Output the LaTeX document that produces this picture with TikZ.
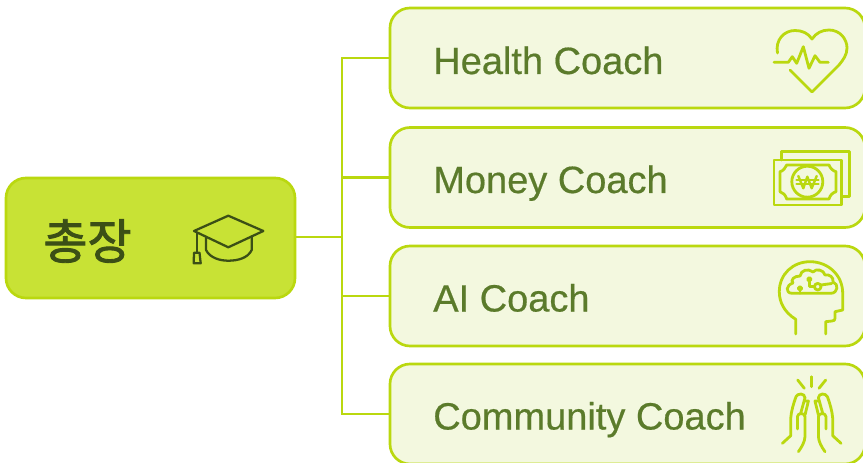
\documentclass[tikz,border=0pt]{standalone}
\usepackage{fontspec}
\setmainfont{Liberation Sans}[FakeBold=0.5]
\newfontfamily\cjk{Noto Sans CJK KR}[FakeBold=1.8]
\definecolor{lime}{HTML}{BAD80F}
\definecolor{pale}{HTML}{F3F8DF}
\definecolor{rootfill}{HTML}{C8E235}
\definecolor{txt}{HTML}{5B7B2B}
\definecolor{dark}{HTML}{3B4F16}
\tikzset{
  coachbox/.style={draw=lime,fill=pale,line width=2pt,rounded corners=15pt,minimum width=356.25pt,minimum height=75pt,inner sep=0pt},
  rootbox/.style={draw=lime,fill=rootfill,line width=2pt,rounded corners=15pt,minimum width=216.75pt,minimum height=90pt,inner sep=0pt},
  coachtext/.style={text=txt,font=\fontsize{28.5pt}{32pt}\selectfont,anchor=base west,inner sep=0pt},
  link/.style={draw=lime,line width=2.1pt},
  icon/.style={draw=lime,line width=2.1pt,line cap=round,line join=round},
  capicon/.style={draw=dark,line width=1.7pt,line cap=round,line join=round},
}
\begin{document}
\begin{tikzpicture}[x=0.75pt,y=-0.75pt]
\useasboundingbox (0,0) rectangle (863,463);
\fill[white] (0,0) rectangle (863,463);
\coordinate (j) at (342,237);
\node[coachbox] (h) at (627.5,58) {};
\node[coachbox] (m) at (627.5,177.5) {};
\node[coachbox] (a) at (627.5,296) {};
\node[coachbox] (c) at (627.5,414) {};
\node[rootbox] (root) at (150.5,238) {};
\draw[link] (root.east |- j) -- (j);
\draw[link] (h.west) -| (j);
\draw[link] (m.west) -| (j);
\draw[link] (a.west) -| (j);
\draw[link] (c.west) -| (j);
\node[coachtext] (t1) at (433,74) {Health Coach};
\node[coachtext] (t2) at (433,193) {Money Coach};
\node[coachtext] (t3) at (433,311.5) {AI Coach};
\node[coachtext] (t4) at (433,429.5) {Community Coach};
\node[text=dark,inner sep=0pt] (t0) at (87.5,241) {\cjk\fontsize{36pt}{39pt}\selectfont 총장};
% graduation cap
\begin{scope}[capicon]
\draw (228.3,215.7) -- (263.3,231) -- (228.3,247.3) -- (194,231) -- cycle;
\draw (206,236.7) -- (206,250) .. controls (210,258) and (220,260.7) .. (228.3,260.7) .. controls (238,260.7) and (248,258) .. (251.7,250) -- (251.7,236.7);
\draw (196.7,232.7) -- (196.7,251.7);
\draw (194,252.7) -- (199.5,252.7) -- (200.7,263.3) -- (193.7,263.3) -- cycle;
\end{scope}
\begin{scope}[icon]
% heart
\draw (777.5,53) .. controls (775,40) and (784,30.5) .. (795,30.5) .. controls (802,30.5) and (808,33) .. (812,39) .. controls (816,33) and (822,30) .. (829,30) .. controls (840,30) and (847,39) .. (847,48) .. controls (847,55) and (843,60) .. (839,65) -- (812,92) -- (790,70);
\draw (774,62.3) -- (788.3,62.3) -- (792.3,56.7) -- (796.7,63.3) -- (803.3,46.7) -- (809,68.3) -- (815,55.7) -- (820,62.3) -- (828.3,62.3);
% money
\draw (781.7,160) -- (781.7,151.7) -- (849.3,151.7) -- (849.3,196.7) -- (841.7,196.7);
\draw (774,160) rectangle (841.7,205);
\draw (786.7,165) -- (829,165) .. controls (830,168) and (833,171) .. (836,171.7) -- (836,191.7) .. controls (833,192.5) and (830,195) .. (829,199) -- (786.7,199) .. controls (785.5,195) and (783,192.5) .. (780,191.7) -- (780,171.7) .. controls (783,171) and (785.5,168) .. (786.7,165) -- cycle;
\draw (807.3,181.7) circle[radius=15.5];
\draw[line width=1.8pt] (798.3,176) -- (803.3,188.3) -- (807.3,176.7) -- (811.7,188.3) -- (816.7,176);
\draw[line width=1.6pt] (796.5,180) -- (818.5,180) (796.5,184) -- (818.5,184);
% brain head
\draw (795.7,334) -- (795.7,319.3) .. controls (784,312) and (779.3,302) .. (779.3,291.7) .. controls (779.3,274) and (793,261.7) .. (810,261.7) .. controls (828,261.7) and (842.7,275) .. (842.7,293.3) -- (842.7,310) -- (835,311.7) -- (835,318.3) .. controls (835,320) and (834,321) .. (832,321) -- (825.7,321.7) -- (825.7,334);
\draw (792,293.3) -- (831,293.3) .. controls (838,293) and (839,284) .. (833,282) .. controls (834,277) and (829,274) .. (825,275) .. controls (824,270) and (816,268) .. (813,272) .. controls (808,268) and (801,270) .. (800,276) .. controls (794,276) and (790,280) .. (793,283) .. controls (786,285) and (785,293) .. (792,293.3) -- cycle;
\draw[fill=lime] (800,288.3) circle[radius=1.8];
\draw (800,288.3) -- (800,293.3);
\draw[fill=lime] (809.3,279.3) circle[radius=1.8];
\draw (809.3,279.3) -- (809.3,286.7) -- (814.5,286.7);
\draw (817.7,286.7) circle[radius=3.3];
\draw (821,285) -- (831.7,283.5);
% hands
\foreach \s in {1,-1}{
\begin{scope}[shift={(811.7,0)},xscale=\s]
\draw (-29.3,443.3) -- (-21,435.7) -- (-21,418.3) .. controls (-20.5,411) and (-18,403) .. (-15.7,396.7) .. controls (-14,393) and (-7,393) .. (-6.7,397.7) -- (-11,413.3);
\draw (-7.3,401) -- (-3.3,401) -- (-6.7,415);
\draw (-14.3,429) -- (-14.3,416.7) .. controls (-14,412.5) and (-7,412.5) .. (-6.7,416.7) -- (-6.7,436.7) .. controls (-7,442) and (-10,447) .. (-13.3,451.7);
\end{scope}}
\draw (797.7,380) -- (804.3,388.3);
\draw (811.7,376.7) -- (811.7,386.7);
\draw (825.7,380) -- (819,388.3);
\end{scope}
\end{tikzpicture}
\end{document}
